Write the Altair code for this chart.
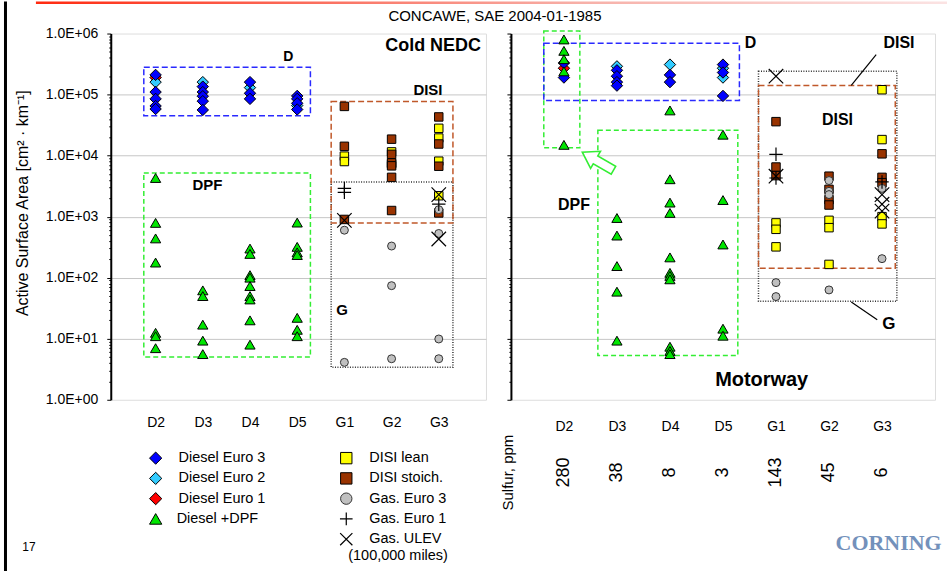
import altair as alt
import pandas as pd

FONT = "Liberation Sans"

# ---------------- data ----------------
CATS = ["D2", "D3", "D4", "D5", "G1", "G2", "G3"]
SULFUR_PPM = ["280", "38", "8", "3", "143", "45", "6"]
LEGEND_DIESEL = ["Diesel Euro 3", "Diesel Euro 2", "Diesel Euro 1", "Diesel +DPF"]
LEGEND_GAS = ["DISI lean", "DISI stoich.", "Gas. Euro 3", "Gas. Euro 1", "Gas. ULEV"]

# Cold NEDC
COLD_EURO3 = {"D2": [2.1e5, 1.1e5, 8.5e4, 6.5e4, 5.8e4], "D3": [1.35e5, 1.1e5, 9.4e4, 7.8e4, 5.6e4],
              "D4": [1.6e5, 1.05e5, 8.5e4], "D5": [9.5e4, 8.5e4, 7.2e4, 5.7e4]}
COLD_EURO2 = {"D2": [1.6e5], "D3": [1.6e5], "D4": [1.3e5], "D5": [6.6e4]}
COLD_EURO1 = {"D2": [1.9e5]}
COLD_DPF = {"D2": [4300, 790, 440, 177, 12.5, 11, 7], "D3": [62, 50, 17, 9.3, 5.6],
            "D4": [300, 245, 110, 100, 73, 50, 44, 20, 8], "D5": [800, 320, 260, 235, 22, 14, 11]}
COLD_DISI_LEAN = {"G1": [9.8e3, 8.0e3], "G2": [1.15e4, 7.3e3], "G3": [2.8e4, 1.94e4, 8.1e3, 2.2e3]}
COLD_DISI_STOICH = {"G1": [6.4e4, 1.42e4, 900], "G2": [1.86e4, 1.05e4, 7.6e3, 6.8e3, 4.4e3, 1.26e3],
                    "G3": [4.3e4, 1.55e4, 6.7e3, 1.15e3]}
COLD_GAS_EURO3 = {"G1": [600, 4.1], "G2": [330, 74, 4.7], "G3": [1300, 530, 9.9, 4.7]}
COLD_GAS_EURO1 = {"G1": [2.9e3, 2.5e3], "G3": [1.6e3]}
COLD_GAS_ULEV = {"G1": [870], "G3": [2.3e3, 430]}

# Motorway
MW_EURO3 = {"D2": [3.3e5, 1.9e5], "D3": [2.5e5, 2.0e5, 1.6e5, 1.4e5], "D4": [2.1e5, 1.6e5],
            "D5": [3.1e5, 2.3e5, 9.5e4]}
MW_EURO2 = {"D3": [2.9e5], "D4": [3.1e5], "D5": [2.7e5, 1.9e5]}
MW_EURO1 = {"D2": [2.7e5]}
MW_DPF = {"D2": [8.0e5, 5.2e5, 3.8e5, 2.4e5, 1.5e4], "D3": [950, 490, 155, 59, 9.3],
          "D4": [5.5e4, 4.1e3, 1.7e3, 1.15e3, 215, 120, 107, 94, 7.4, 6.3, 5.6],
          "D5": [2.2e4, 1.87e3, 350, 14.6, 11.2]}
MW_DISI_LEAN = {"G1": [790, 620, 320], "G2": [870, 660, 165], "G3": [1.2e5, 1.83e4, 1.0e3, 760]}
MW_DISI_STOICH = {"G1": [3.6e4, 6.5e3, 4.7e3], "G2": [4.6e3, 2.8e3, 1.9e3, 1.55e3],
                  "G3": [1.07e4, 4.4e3, 3.6e3]}
MW_GAS_EURO3 = {"G1": [83, 49], "G2": [3.9e3, 2.6e3, 2.3e3, 63], "G3": [2.9e3, 205]}
MW_GAS_EURO1 = {"G1": [1.05e4, 4.3e3], "G3": [3.7e3]}
MW_GAS_ULEV = {"G1": [2.0e5, 4.6e3], "G3": [2.3e3, 1.6e3, 1.23e3]}

# annotation boxes (category units, surface-area values)
COLD_BOX_D = [0.75, 4.28, 2.8e5, 4.5e4]
COLD_BOX_DPF = [0.75, 4.28, 5.2e3, 5.0]
COLD_BOX_DISI = [4.72, 7.30, 7.7e4, 790]
COLD_BOX_G = [4.72, 7.30, 3.7e3, 3.4]
MW_BOX_D2DPF = [0.62, 1.30, 1.1e6, 1.34e4]
MW_BOX_D = [0.62, 4.31, 6.9e5, 8.0e4]
MW_BOX_DPF = [1.64, 4.28, 2.6e4, 5.3]
MW_BOX_G = [4.67, 7.28, 2.4e5, 41]
MW_BOX_DISI = [4.67, 7.25, 1.41e5, 143]

# ---------------- helpers ----------------
ONE = pd.DataFrame({"k": [0]})


def rows(series):
    out = []
    for cat, vals in series.items():
        for v in vals:
            out.append({"u": CATS.index(cat) + 1, "v": v})
    return pd.DataFrame(out)


YS = alt.Scale(type="log", domain=[1, 1e6], nice=False)
XS_L = alt.Scale(domain=[0.05, 8], nice=False, zero=False)
XS_R = alt.Scale(domain=[0, 8], nice=False, zero=False)

YTICKS = [m * 10 ** k for k in range(6) for m in range(1, 10)] + [10 ** 6]
DEC = "abs(log(datum.value)/LN10 - round(log(datum.value)/LN10)) < 0.001"


def yaxis(labels):
    kw = dict(values=YTICKS, title=None, labelOverlap=False, tickColor="black", tickWidth=1,
              tickSize={"condition": {"test": DEC, "value": 4}, "value": 2},
              domainColor="black", domainWidth=2, grid=True, gridColor="#c6c6c6", gridWidth=1,
              gridOpacity={"condition": {"test": DEC + " && datum.value > 2 && datum.value < 500000",
                                         "value": 1}, "value": 0})
    if labels:
        kw.update(labels=True,
                  labelExpr=DEC + " ? '1.0E+0' + round(log(datum.value)/LN10) : ''",
                  labelFont=FONT, labelFontSize=14, labelColor="black", labelPadding=9)
    else:
        kw.update(labels=False)
    return alt.Axis(**kw)


XLABEL_EXPR = "[" + ",".join(["''"] + ["'" + c + "'" for c in CATS]) + "][datum.value]"


def xaxis(pad):
    return alt.Axis(values=list(range(1, 8)), labelExpr=XLABEL_EXPR, title=None, ticks=False,
                    tickSize=0, domain=False, grid=False, labelPadding=pad, labelFont=FONT,
                    labelFontSize=14, labelColor="black", labelAngle=0)


PLUS = "M-1,0L1,0M0,-1L0,1"
CROSS = "M-1,-1L1,1M-1,1L1,-1"
ARROW = "M1,0L0.15,-0.55L0.15,-0.25L-1,-0.25L-1,0.25L0.15,0.25L0.15,0.55Z"


class Panel:
    def __init__(self, xs, xax, yax):
        self.xs, self.xax, self.yax = xs, xax, yax

    def X(self, f):
        return alt.X(f, type="quantitative", scale=self.xs, axis=self.xax)

    def Y(self, f):
        return alt.Y(f, type="quantitative", scale=YS, axis=self.yax)

    def pts(self, data, shape, size, **kw):
        return alt.Chart(rows(data)).mark_point(shape=shape, size=size, opacity=1, **kw).encode(
            x=self.X("u"), y=self.Y("v"))

    def box(self, b, color, dash, width=1.5):
        df = pd.DataFrame([{"x1": b[0], "x2": b[1], "y1": b[2], "y2": b[3]}])
        return alt.Chart(df).mark_rect(fill="white", fillOpacity=0, stroke=color, strokeDash=dash,
                                       strokeWidth=width).encode(
            x=self.X("x1"), x2="x2:Q", y=self.Y("y1"), y2="y2:Q")

    def label(self, u, v, s, size, **kw):
        df = pd.DataFrame([{"u": u, "v": v, "t": s}])
        return alt.Chart(df).mark_text(font=FONT, fontSize=size, fontWeight="bold", color="black",
                                       **kw).encode(x=self.X("u"), y=self.Y("v"), text="t:N")

    def line(self, u1, v1, u2, v2):
        df = pd.DataFrame([{"x1": u1, "x2": u2, "y1": v1, "y2": v2}])
        return alt.Chart(df).mark_rule(color="black", strokeWidth=1.2).encode(
            x=self.X("x1"), x2="x2:Q", y=self.Y("y1"), y2="y2:Q")

    def series(self, e3, e2, e1, dpf, lean, stoich, g3, g1, ulev, dsz=130, tsz=105):
        return [
            self.pts(e1, "diamond", dsz, filled=True, fill="#ff0000", stroke="black", strokeWidth=1),
            self.pts(e2, "diamond", dsz, filled=True, fill="#33ccff", stroke="black", strokeWidth=1),
            self.pts(e3, "diamond", dsz, filled=True, fill="#0000ff", stroke="black", strokeWidth=1),
            self.pts(dpf, "triangle-up", tsz, filled=True, fill="#00e600", stroke="black", strokeWidth=1),
            self.pts(lean, "square", 72, filled=True, fill="#ffff00", stroke="black", strokeWidth=1),
            self.pts(stoich, "square", 72, filled=True, fill="#993300", stroke="black", strokeWidth=1),
            self.pts(g3, "circle", 64, filled=True, fill="#c0c0c0", stroke="#333333", strokeWidth=1),
            self.pts(g1, PLUS, 180, filled=False, stroke="black", strokeWidth=1.2),
            self.pts(ulev, CROSS, 210, filled=False, stroke="black", strokeWidth=1.2),
        ]


def ptxt(x, y, s, size=14, **kw):
    return alt.Chart(ONE).mark_text(text=s, font=FONT, fontSize=size, color="black", **kw).encode(
        x=alt.value(x), y=alt.value(y))


def psym(x, y, shape, size, **kw):
    return alt.Chart(ONE).mark_point(shape=shape, size=size, opacity=1, **kw).encode(
        x=alt.value(x), y=alt.value(y))


def prect(x1, x2, y1, y2, **kw):
    return alt.Chart(ONE).mark_rect(**kw).encode(
        x=alt.value(x1), x2=alt.value(x2), y=alt.value(y1), y2=alt.value(y2))


# ---------------- left panel (Cold NEDC) ----------------
L = Panel(XS_L, xaxis(16), yaxis(True))
BLUE, GREEN, BROWN = "#2a2aff", "#33ee33", "#c0582a"

left_layers = [
    prect(-110, 838, -32, 539, fill="white", fillOpacity=0, strokeOpacity=0),
    L.box(COLD_BOX_D, BLUE, [6, 3]),
    L.box(COLD_BOX_DPF, GREEN, [5, 3]),
    L.box(COLD_BOX_G, "#333333", [1, 1.5]),
    L.box(COLD_BOX_DISI, BROWN, [6, 3]),
]
left_layers += L.series(COLD_EURO3, COLD_EURO2, COLD_EURO1, COLD_DPF, COLD_DISI_LEAN,
                        COLD_DISI_STOICH, COLD_GAS_EURO3, COLD_GAS_EURO1, COLD_GAS_ULEV)
left_layers += [
    L.label(3.81, 4.05e5, "D", 14),
    L.label(2.10, 3.3e3, "DPF", 15),
    L.label(6.77, 1.17e5, "DISI", 15),
    L.label(4.95, 29.8, "G", 15),
    L.label(6.88, 6.2e5, "Cold NEDC", 18),
]

# slide decorations
left_layers += [
    prect(-75, 838, -32, -29.5,
          fill=alt.LinearGradient(gradient="linear", x1=0, x2=1, y1=0, y2=0,
                                  stops=[alt.GradientStop(color="#ff2a10", offset=0),
                                         alt.GradientStop(color="#f7b0a8", offset=0.6),
                                         alt.GradientStop(color="#fbe3e3", offset=1)])),
    prect(-107, -104, -32, 539, fill="black"),
    ptxt(385, -18, "CONCAWE, SAE 2004-01-1985", 15, align="center", baseline="middle"),
    ptxt(-88, 170, "Active Surface Area [cm² · km⁻¹]", 16, angle=270, align="center",
         baseline="middle"),
    ptxt(-82, 515, "17", 12, align="center", baseline="middle"),
]

# legend
LEG_Y = [425.5 + 20.3 * i for i in range(5)]
dia_fills = ["#0000ff", "#33ccff", "#ff0000"]
for i, name in enumerate(LEGEND_DIESEL):
    if i < 3:
        left_layers.append(psym(45, LEG_Y[i], "diamond", 150, filled=True, fill=dia_fills[i],
                                stroke="black", strokeWidth=1))
    else:
        left_layers.append(psym(45, LEG_Y[i], "triangle-up", 150, filled=True, fill="#00e600",
                                stroke="black", strokeWidth=1))
    left_layers.append(ptxt(68 if i < 3 else 66, LEG_Y[i], name, 14.5, align="left",
                            baseline="middle"))

gas_syms = [
    dict(shape="square", size=130, filled=True, fill="#ffff00", stroke="black", strokeWidth=1),
    dict(shape="square", size=130, filled=True, fill="#993300", stroke="black", strokeWidth=1),
    dict(shape="circle", size=130, filled=True, fill="#c0c0c0", stroke="#333333", strokeWidth=1),
    dict(shape=PLUS, size=160, filled=False, stroke="black", strokeWidth=1.2),
    dict(shape=CROSS, size=150, filled=False, stroke="black", strokeWidth=1.2),
]
for i, name in enumerate(LEGEND_GAS):
    s = dict(gas_syms[i])
    shape, size = s.pop("shape"), s.pop("size")
    left_layers.append(psym(236, LEG_Y[i], shape, size, **s))
    left_layers.append(ptxt(259, LEG_Y[i], name, 14.5, align="left", baseline="middle"))
left_layers.append(ptxt(238, 524, "(100,000 miles)", 14.5, align="left", baseline="middle"))

left = alt.layer(*left_layers).properties(width=376, height=367)

# ---------------- right panel (Motorway) ----------------
R = Panel(XS_R, xaxis(20), yaxis(False))
sulfur_df = pd.DataFrame({"u": list(range(1, 8)), "t": SULFUR_PPM})

right_layers = [
    R.box(MW_BOX_D2DPF, GREEN, [5, 3]),
    R.box(MW_BOX_D, BLUE, [6, 3]),
    R.box(MW_BOX_DPF, GREEN, [5, 3]),
    R.box(MW_BOX_G, "#333333", [1, 1.5]),
    R.box(MW_BOX_DISI, BROWN, [6, 3]),
    alt.Chart(pd.DataFrame([{"u": 1.64, "v": 8.1e3}])).mark_point(
        shape=ARROW, size=1300, angle=210, filled=True, fill="white", stroke=GREEN,
        strokeWidth=1.6, opacity=1).encode(x=R.X("u"), y=R.Y("v")),
]
right_layers += R.series(MW_EURO3, MW_EURO2, MW_EURO1, MW_DPF, MW_DISI_LEAN, MW_DISI_STOICH,
                         MW_GAS_EURO3, MW_GAS_EURO1, MW_GAS_ULEV)
right_layers += [
    R.label(4.52, 6.9e5, "D", 16),
    R.label(7.32, 6.9e5, "DISI", 16),
    R.label(6.16, 3.8e4, "DISI", 16),
    R.label(1.19, 1.58e3, "DPF", 16),
    R.label(7.13, 17.4, "G", 17),
    R.label(4.73, 2.1, "Motorway", 20),
    R.line(6.89, 4.5e5, 6.42, 1.41e5),
    R.line(6.42, 40, 6.91, 20.4),
    alt.Chart(sulfur_df).mark_text(font=FONT, fontSize=18, color="black", angle=270,
                                   align="center", baseline="middle").encode(
        x=R.X("u"), y=alt.value(440), text="t:N"),
    ptxt(-3, 440, "Sulfur, ppm", 15, angle=270, align="center", baseline="middle"),
    alt.Chart(ONE).mark_text(text="CORNING", font="Liberation Serif", fontSize=22,
                             fontWeight="bold", color="#7391bb", align="center",
                             baseline="middle").encode(x=alt.value(378.5), y=alt.value(511)),
]

right = alt.layer(*right_layers).properties(width=425, height=367)

chart = alt.hconcat(left, right, spacing=25, bounds="flush", padding=0).configure_view(
    stroke="black", strokeWidth=1).configure(background="white")

chart.save("out.html", embed_options={"renderer": "svg", "actions": False})
